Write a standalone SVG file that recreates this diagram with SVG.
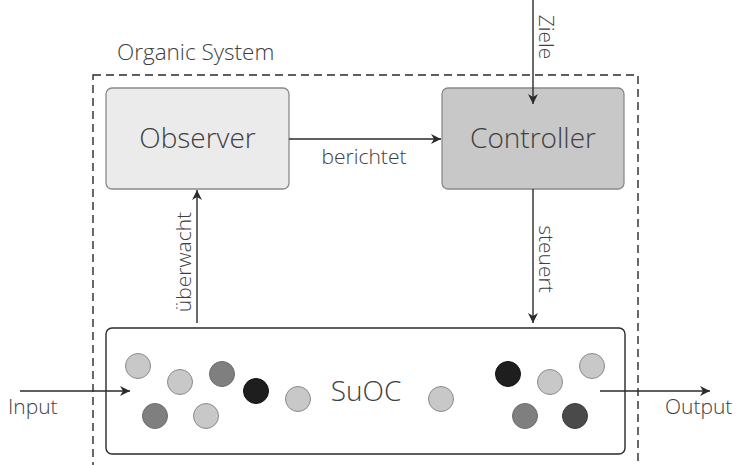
<svg xmlns="http://www.w3.org/2000/svg" width="737" height="465" viewBox="0 0 737 465">
<defs>
<marker id="ah" viewBox="0 0 10 10" refX="10" refY="5" markerWidth="10" markerHeight="10" markerUnits="userSpaceOnUse" orient="auto">
<path d="M0,0 L10,5 L0,10 L3,5 Z" fill="#2a2a2a"/>
</marker>
<style>
text{font-family:"Open Sans","Noto Sans","Liberation Sans",sans-serif;fill:#404040;font-weight:300}
.big{font-size:28px}
.lbl{font-size:21px}
.title{font-size:22.5px}
.conn{stroke:#2a2a2a;stroke-width:1.4;fill:none;marker-end:url(#ah)}
.light{fill:#c8c8c8;stroke:#8a8a8a;stroke-width:1}
.mid{fill:#7f7f7f;stroke:#6a6a6a;stroke-width:1}
.dark{fill:#4a4a4a;stroke:#3a3a3a;stroke-width:1}
.black{fill:#1e1e1e;stroke:#111;stroke-width:1}
</style>
</defs>
<rect width="737" height="465" fill="#fff"/>
<g id="organic-system">
<rect x="93" y="75" width="545" height="400" fill="none" stroke="#2a2a2a" stroke-width="1.4" stroke-dasharray="8,5"/>
<text x="117" y="60" class="title">Organic System</text>
</g>
<g id="observer">
<rect x="106" y="88" width="183" height="101" rx="6" fill="#ebebeb" stroke="#8a8a8a" stroke-width="1.3"/>
<text x="197.5" y="148" class="big" text-anchor="middle">Observer</text>
</g>
<g id="controller">
<rect x="442" y="88" width="182" height="101" rx="6" fill="#c8c8c8" stroke="#8a8a8a" stroke-width="1.3"/>
<text x="533" y="148" class="big" text-anchor="middle">Controller</text>
</g>
<g id="suoc">
<rect x="106" y="328" width="519" height="126" rx="6" fill="#fff" stroke="#2a2a2a" stroke-width="1.4"/>
<text x="366" y="401" class="big" text-anchor="middle">SuOC</text>
<circle cx="138" cy="366" r="12.5" class="light"/>
<circle cx="180" cy="382" r="12.5" class="light"/>
<circle cx="222" cy="374" r="12.5" class="mid"/>
<circle cx="256" cy="391" r="12.5" class="black"/>
<circle cx="298" cy="399" r="12.5" class="light"/>
<circle cx="155" cy="416" r="12.5" class="mid"/>
<circle cx="206" cy="416" r="12.5" class="light"/>
<circle cx="441" cy="399" r="12.5" class="light"/>
<circle cx="508" cy="374" r="12.5" class="black"/>
<circle cx="550" cy="382" r="12.5" class="light"/>
<circle cx="592" cy="366" r="12.5" class="light"/>
<circle cx="525" cy="416" r="12.5" class="mid"/>
<circle cx="575" cy="416" r="12.5" class="dark"/>
</g>
<g id="connectors">
<line x1="289" y1="139" x2="441" y2="139" class="conn"/>
<line x1="533" y1="0" x2="533" y2="104" class="conn"/>
<line x1="533" y1="189" x2="533" y2="323" class="conn"/>
<line x1="197" y1="323" x2="197" y2="190" class="conn"/>
<line x1="20" y1="391" x2="130" y2="391" class="conn"/>
<line x1="600" y1="391" x2="710" y2="391" class="conn"/>
</g>
<g id="labels">
<text x="364" y="164" class="lbl" text-anchor="middle">berichtet</text>
<text transform="translate(539,37) rotate(90)" class="lbl" text-anchor="middle">Ziele</text>
<text transform="translate(539,259) rotate(90)" class="lbl" text-anchor="middle">steuert</text>
<text transform="translate(191,262) rotate(-90)" class="lbl" text-anchor="middle">überwacht</text>
<text x="8" y="414" class="lbl">Input</text>
<text x="665" y="414" class="lbl">Output</text>
</g>
</svg>
